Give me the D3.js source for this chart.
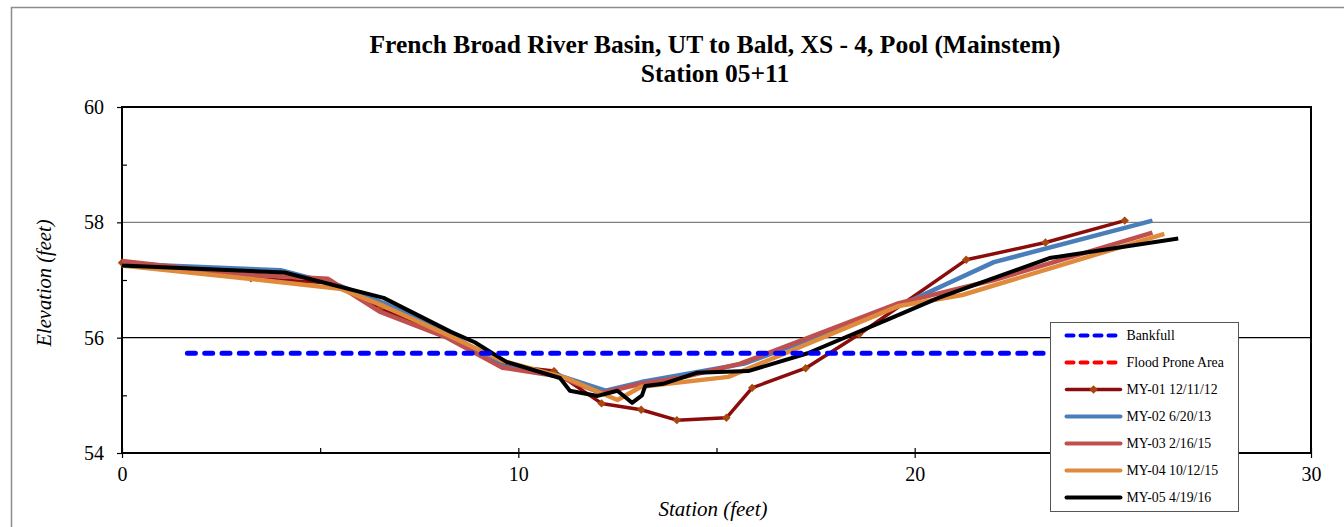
<!DOCTYPE html>
<html>
<head>
<meta charset="utf-8">
<script src="https://cdn.jsdelivr.net/npm/d3@7"></script>
<style>
  html, body { margin: 0; padding: 0; background: #fff; }
  svg { display: block; }
  text { font-family: "Liberation Serif", "Times New Roman", serif; }
</style>
</head>
<body>
<script>
// ---------- data ----------
const titleLines = ["French Broad River Basin, UT to Bald, XS - 4, Pool (Mainstem)", "Station 05+11"];
const xTicks = [0, 10, 20, 30];
const xMinorTicks = [5, 15, 25];
const yTicks = [54, 56, 58, 60];
const yMinorTicks = [55, 57, 59];

const bankfullX = [1.65, 25.5];
const bankfullY = [55.73, 55.73];
const floodX = [];
const floodY = [];

const my01X = [0, 3.25, 5.3, 6.5, 8.2, 9.6, 10.9, 12.1, 13.1, 14.0, 15.25, 15.9, 17.25, 18.6, 21.3, 23.3, 25.3];
const my01Y = [57.30, 57.03, 56.95, 56.5, 56.05, 55.52, 55.42, 54.86, 54.75, 54.57, 54.61, 55.13, 55.47, 56.06, 57.35, 57.65, 58.03];

const my02X = [0, 4.0, 5.5, 6.6, 8.2, 9.6, 11.0, 12.2, 13.1, 15.7, 19.6, 22.0, 26.0];
const my02Y = [57.28, 57.17, 56.9, 56.6, 56.1, 55.5, 55.35, 55.08, 55.23, 55.55, 56.55, 57.31, 58.03];

const my03X = [0, 3.0, 5.2, 6.5, 8.2, 9.6, 11.0, 12.1, 13.1, 14.2, 15.6, 19.6, 22.0, 26.0];
const my03Y = [57.33, 57.1, 57.02, 56.45, 56.0, 55.48, 55.33, 55.04, 55.2, 55.32, 55.55, 56.6, 57.0, 57.82];

const my04X = [0, 3.5, 5.5, 6.6, 8.2, 9.6, 11.2, 12.5, 13.1, 15.3, 19.6, 21.2, 26.3];
const my04Y = [57.25, 57.0, 56.85, 56.55, 56.05, 55.6, 55.3, 54.92, 55.15, 55.32, 56.55, 56.74, 57.80];

const my05X = [0, 4.1, 6.6, 8.3, 8.9, 9.7, 11.05, 11.3, 12.0, 12.5, 12.87, 13.12, 13.2, 13.65, 14.5, 15.8, 17.3, 19.3, 20.6, 23.4, 26.65];
const my05Y = [57.25, 57.13, 56.69, 56.1, 55.92, 55.58, 55.3, 55.08, 54.99, 55.08, 54.87, 55.0, 55.16, 55.2, 55.39, 55.42, 55.73, 56.31, 56.69, 57.38, 57.72];

const seriesNames = ["MY-01 12/11/12", "MY-02 6/20/13", "MY-03 2/16/15", "MY-04 10/12/15", "MY-05 4/19/16"];

// ---------- layout ----------
const W = 1344, H = 527;
const L = 122, R = 1311, T = 107, B = 453;
const serif = '"Liberation Serif", "Times New Roman", serif';

const svg = d3.select("body").append("svg").attr("width", W).attr("height", H);

// outer chart border
svg.append("path")
  .attr("d", `M11.5,${H + 2} L11.5,7.5 L${W + 2},7.5`)
  .attr("fill", "none").attr("stroke", "#8c8c8c").attr("stroke-width", 1.5);

const x = d3.scaleLinear().domain([0, 30]).range([L, R]);
const y = d3.scaleLinear().domain([54, 60]).range([B, T]);

// gridlines
svg.append("line").attr("x1", L).attr("x2", R).attr("y1", y(58)).attr("y2", y(58))
  .attr("stroke", "#7f7f7f").attr("stroke-width", 1.2);
svg.append("line").attr("x1", L).attr("x2", R).attr("y1", y(56)).attr("y2", y(56))
  .attr("stroke", "#000").attr("stroke-width", 1.2);

// plot border
svg.append("rect").attr("x", L).attr("y", T).attr("width", R - L).attr("height", B - T)
  .attr("fill", "none").attr("stroke", "#000").attr("stroke-width", 2);

// axes
const fontTick = 20;
const yAxis = svg.append("g").attr("transform", `translate(${L},0)`)
  .call(d3.axisLeft(y).tickValues(yTicks).tickSize(5).tickPadding(13).tickFormat(d3.format("d")));
const yMinor = svg.append("g").attr("transform", `translate(${L},0)`)
  .call(d3.axisLeft(y).tickValues(yMinorTicks).tickSize(-5).tickFormat(""));
const xAxis = svg.append("g").attr("transform", `translate(0,${B})`)
  .call(d3.axisBottom(x).tickValues(xTicks).tickSize(5).tickPadding(9).tickFormat(d3.format("d")));
const xIn = svg.append("g").attr("transform", `translate(0,${B})`)
  .call(d3.axisBottom(x).tickValues(xTicks.concat(xMinorTicks)).tickSize(-5).tickFormat(""));
[yAxis, yMinor, xAxis, xIn].forEach(g => {
  g.attr("font-family", serif);
  g.select(".domain").remove();
  g.selectAll("line").attr("stroke", "#000").attr("stroke-width", 1.2);
  g.selectAll("text").attr("font-family", serif)
    .attr("font-size", fontTick).attr("fill", "#000");
});

// titles
svg.append("text").attr("x", 715).attr("y", 53).attr("text-anchor", "middle").attr("font-family", serif)
  .attr("font-size", 25.5).attr("font-weight", "bold").text(titleLines[0]);
svg.append("text").attr("x", 715).attr("y", 82).attr("text-anchor", "middle").attr("font-family", serif)
  .attr("font-size", 25.5).attr("font-weight", "bold").text(titleLines[1]);

svg.append("text").attr("transform", `translate(51,${283}) rotate(-90)`).attr("font-family", serif)
  .attr("text-anchor", "middle").attr("font-size", 20.5).attr("font-style", "italic")
  .text("Elevation (feet)");
svg.append("text").attr("x", 713).attr("y", 516).attr("text-anchor", "middle").attr("font-family", serif)
  .attr("font-size", 21).attr("font-style", "italic").text("Station (feet)");

// ---------- series ----------
const line = d3.line().x(d => x(d[0])).y(d => y(d[1]));
const zip = (a, b) => a.map((v, i) => [v, b[i]]);

const series = [
  { xs: my01X, ys: my01Y, color: "#8a0c0c", width: 3.5, marker: true },
  { xs: my02X, ys: my02Y, color: "#4a7ebb", width: 4.5 },
  { xs: my03X, ys: my03Y, color: "#c0504d", width: 4.5 },
  { xs: my04X, ys: my04Y, color: "#e08a3c", width: 4.5 },
  { xs: my05X, ys: my05Y, color: "#000000", width: 4 }
];
const markerColor = "#a8470e";
const diamond = d3.symbol().type(d3.symbolDiamond2).size(45);

series.forEach(s => {
  const pts = zip(s.xs, s.ys);
  svg.append("path").datum(pts).attr("d", line)
    .attr("fill", "none").attr("stroke", s.color).attr("stroke-width", s.width)
    .attr("stroke-linejoin", "round");
  if (s.marker) {
    svg.selectAll(null).data(pts).enter().append("path")
      .attr("d", diamond).attr("transform", d => `translate(${x(d[0])},${y(d[1])})`)
      .attr("fill", markerColor);
  }
});

// bankfull & flood prone
const dashArr = "8,9.3";
svg.append("path").datum(zip(bankfullX, bankfullY)).attr("d", line)
  .attr("fill", "none").attr("stroke", "#0000ff").attr("stroke-width", 5)
  .attr("stroke-dasharray", dashArr).attr("stroke-linecap", "round");
if (floodX.length) {
  svg.append("path").datum(zip(floodX, floodY)).attr("d", line)
    .attr("fill", "none").attr("stroke", "#ff0000").attr("stroke-width", 5)
    .attr("stroke-dasharray", dashArr).attr("stroke-linecap", "round");
}

// ---------- legend ----------
const lg = svg.append("g").attr("transform", "translate(1050.5,322.5)");
lg.append("rect").attr("width", 188).attr("height", 189).attr("fill", "#fff")
  .attr("stroke", "#555").attr("stroke-width", 1);
const legendItems = [
  { name: "Bankfull", color: "#0000ff", dash: true, width: 4 },
  { name: "Flood Prone Area", color: "#ff0000", dash: true, width: 4 },
  { name: seriesNames[0], color: "#8a0c0c", width: 3.5, marker: true },
  { name: seriesNames[1], color: "#4a7ebb", width: 4 },
  { name: seriesNames[2], color: "#c0504d", width: 4 },
  { name: seriesNames[3], color: "#e08a3c", width: 4 },
  { name: seriesNames[4], color: "#000000", width: 4 }
];
legendItems.forEach((it, i) => {
  const cy = 13 + i * 27;
  const ln = lg.append("line").attr("x1", 16).attr("x2", 70).attr("y1", cy).attr("y2", cy)
    .attr("stroke", it.color).attr("stroke-width", it.width).attr("stroke-linecap", "round");
  if (it.dash) ln.attr("stroke-dasharray", "7,7");
  if (it.marker) lg.append("path").attr("d", diamond).attr("transform", `translate(43,${cy})`).attr("fill", markerColor);
  lg.append("text").attr("x", 76).attr("y", cy + 4.5).attr("font-family", serif).attr("font-size", 13.8).text(it.name);
});
</script>
</body>
</html>
